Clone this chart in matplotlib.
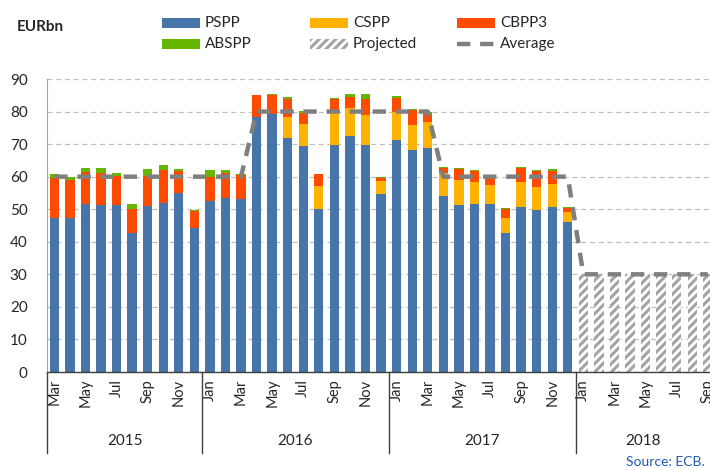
import matplotlib
matplotlib.use("Agg")
import matplotlib.pyplot as plt
import numpy as np
from matplotlib.patches import Rectangle
from matplotlib.lines import Line2D
import matplotlib.transforms as mtransforms

plt.rcParams['font.family'] = ['Lato', 'DejaVu Sans']
plt.rcParams['hatch.linewidth'] = 2.2
plt.rcParams['hatch.color'] = '#A3A3A3'

# ---- data ----
months_actual = ['Mar 2015','Apr 2015','May 2015','Jun 2015','Jul 2015','Aug 2015','Sep 2015','Oct 2015','Nov 2015','Dec 2015',
                 'Jan 2016','Feb 2016','Mar 2016','Apr 2016','May 2016','Jun 2016','Jul 2016','Aug 2016','Sep 2016','Oct 2016','Nov 2016','Dec 2016',
                 'Jan 2017','Feb 2017','Mar 2017','Apr 2017','May 2017','Jun 2017','Jul 2017','Aug 2017','Sep 2017','Oct 2017','Nov 2017','Dec 2017']
months_proj = ['Jan 2018','Feb 2018','Mar 2018','Apr 2018','May 2018','Jun 2018','Jul 2018','Aug 2018','Sep 2018']

pspp = [47.4,47.4,51.6,51.2,51.2,42.8,50.9,51.9,55.0,44.3,
        52.6,53.4,53.0,78.2,79.4,72.0,69.4,50.1,69.7,72.6,69.7,54.7,
        71.3,68.1,68.8,54.1,51.2,51.6,51.6,42.8,50.6,49.8,50.6,46.0]
cspp = [0,0,0,0,0,0,0,0,0,0,
        0,0,0,0,0,6.2,6.8,7.1,10.0,8.4,9.2,4.1,
        8.7,7.7,8.0,6.9,7.8,6.9,5.7,4.6,7.9,7.1,7.3,3.1]
cbpp3 = [12.3,11.6,9.7,9.8,9.1,7.3,9.4,10.3,6.8,5.2,
         7.4,7.6,7.5,6.8,5.6,5.6,3.5,3.5,4.1,3.6,4.9,0.8,
         4.3,4.7,2.6,1.8,3.5,3.3,2.5,2.8,4.3,4.9,3.9,1.4]
abspp = [1.0,1.0,1.5,1.8,0.7,1.4,2.1,1.3,0.7,0.4,
         2.2,1.2,0.3,0.2,0.4,0.8,0.6,0.1,0.4,0.7,1.5,0.3,
         0.6,0.2,0.6,0.2,0.1,0.3,0.4,0.1,0.1,0.3,0.6,0.1]
projected = [30,30,30,30,30,30,30,30,30]
average = [60]*13 + [80]*12 + [60]*9 + [30]*9
years = ['2015','2016','2017','2018']

C_PSPP = '#4774A9'
C_CSPP = '#FFB200'
C_CBPP3 = '#FF4B00'
C_ABSPP = '#66B600'
C_AVG = '#7F7F7F'

fig = plt.figure(figsize=(7.10, 4.68), dpi=100)
ax = fig.add_axes([47/710, (468-372)/468, 1 - 47/710, (372-79)/468])

n = len(pspp)
x = np.arange(n)
w = 0.6
pspp_a = np.array(pspp); cspp_a = np.array(cspp); cbpp3_a = np.array(cbpp3); abspp_a = np.array(abspp)
ax.bar(x, pspp_a, w, color=C_PSPP, zorder=2)
ax.bar(x, cspp_a, w, bottom=pspp_a, color=C_CSPP, zorder=2)
ax.bar(x, cbpp3_a, w, bottom=pspp_a + cspp_a, color=C_CBPP3, zorder=2)
ax.bar(x, abspp_a, w, bottom=pspp_a + cspp_a + cbpp3_a, color=C_ABSPP, zorder=2)

xp = np.arange(n, n + len(projected))
ax.bar(xp, projected, w, color='white', edgecolor='#A3A3A3', hatch='////', linewidth=0, zorder=2)

xa = np.arange(len(average))
ax.plot(xa, average, color=C_AVG, lw=3.2, linestyle=(0, (3, 2.2)), zorder=3, solid_capstyle='butt')

ax.set_xlim(-0.47, 42.14)
ax.set_ylim(0, 90)
ax.set_yticks(np.arange(0, 91, 10))
ax.yaxis.grid(True, color='#BFBFBF', linestyle=(0, (4, 3)), lw=0.9, zorder=0)
ax.set_axisbelow(True)
for s in ['top', 'right']:
    ax.spines[s].set_visible(False)
ax.spines['left'].set_color('#A6A6A6')
ax.spines['bottom'].set_color('#404040')
ax.spines['bottom'].set_linewidth(1.0)
ax.tick_params(axis='y', length=0, labelsize=11, pad=14, colors='#262626')

all_months = months_actual + months_proj
ticks = list(range(0, len(all_months), 2))
ax.set_xticks(ticks)
ax.set_xticklabels([all_months[i].split()[0] for i in ticks], rotation=90, fontsize=10.5, color='#262626')
ax.tick_params(axis='x', length=0, pad=5)

# year separators and labels
trans = mtransforms.blended_transform_factory(ax.transData, ax.transAxes)
bounds = [-0.47, 9.5, 21.5, 33.5, 42.14]
for b in bounds[:-1]:
    ax.add_line(Line2D([b, b], [0, -0.277], transform=trans, color='#404040', lw=1.0, clip_on=False))
for i, yr in enumerate(years):
    cx = (bounds[i] + bounds[i + 1]) / 2
    ax.text(cx, -0.235, yr, transform=trans, ha='center', va='center', fontsize=11, color='#262626')

# legend (manual)
fig.text(17/710, 1 - 27/468, 'EURbn', fontsize=11, fontweight='bold', va='center', ha='left', color='#262626')

def leg_patch(x0, yc, label, **kw):
    fig.patches.append(Rectangle((x0/710, 1 - (yc + 5)/468), 38/710, 10/468, transform=fig.transFigure, **kw))
    fig.text((x0 + 43)/710, 1 - yc/468, label, fontsize=11, va='center', ha='left', color='#262626')

leg_patch(162, 23, 'PSPP', facecolor=C_PSPP, edgecolor='none')
leg_patch(310, 23, 'CSPP', facecolor=C_CSPP, edgecolor='none')
leg_patch(457, 23, 'CBPP3', facecolor=C_CBPP3, edgecolor='none')
leg_patch(162, 44, 'ABSPP', facecolor=C_ABSPP, edgecolor='none')
leg_patch(310, 44, 'Projected', facecolor='white', edgecolor='#A3A3A3', hatch='////', linewidth=0)
fig.lines.append(Line2D([457/710, 495/710], [1 - 44/468, 1 - 44/468], transform=fig.transFigure,
                        color=C_AVG, lw=3.2, linestyle=(0, (3, 2.2))))
fig.text(500/710, 1 - 44/468, 'Average', fontsize=11, va='center', ha='left', color='#262626')

fig.text(705/710, 1 - 462/468, 'Source: ECB.', fontsize=10, va='center', ha='right', color='#1F5AAE')

fig.savefig('out.png', dpi=100)
